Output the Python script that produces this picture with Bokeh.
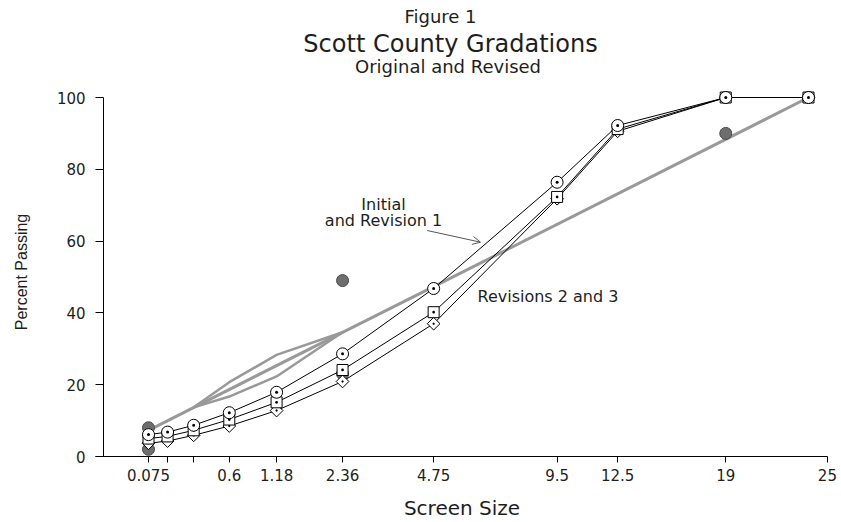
import numpy as np
from bokeh.plotting import figure
from bokeh.models import Range1d, FixedTicker, Label, Arrow, OpenHead
from bokeh.embed import file_html
from bokeh.resources import INLINE

# ---------------- data ----------------
sizes = [0.075, 0.15, 0.3, 0.6, 1.18, 2.36, 4.75, 9.5, 12.5, 19, 25]
initial_rev1 = [6.1, 6.8, 8.7, 12.2, 17.9, 28.6, 46.8, 76.4, 92.2, 100, 100]
revision2 = [5.0, 5.6, 7.3, 10.3, 15.1, 24.1, 40.2, 72.3, 91.2, 100, 100]
revision3 = [3.7, 4.3, 5.9, 8.5, 12.8, 20.9, 37.0, 71.8, 90.6, 100, 100]

# maximum density line (0.45 power)
mdl_sizes = [0.075, 2.36, 4.75, 25]
mdl_values = [7.3, 34.6, 47.3, 100]

# restricted zone boundaries
rz_sizes = [0.3, 0.6, 1.18, 2.36]
rz_upper = [13.7, 20.7, 28.3, 34.6]
rz_lower = [13.7, 16.7, 22.3, 34.6]

# control points
cp_sizes = [0.075, 0.075, 2.36, 2.36, 19]
cp_values = [8, 2, 49, 23, 90]

# axis ticks
tick_sizes = [0.075, 0.15, 0.3, 0.6, 1.18, 2.36, 4.75, 9.5, 12.5, 19, 26.5]
tick_labels = ["0.075", "", "", "0.6", "1.18", "2.36", "4.75", "9.5", "12.5", "19", "25"]
y_ticks = [0, 20, 40, 60, 80, 100]

POW = 0.45


def tx(v):
    return [float(a) for a in np.asarray(v, dtype=float) ** POW]


FONT = "DejaVu Sans"
TXT = "#1e1e1e"
W, H = 841, 522

# layout: the frame fills the whole canvas; both axes are drawn at fixed
# locations inside it, and the titles are drawn as labels.
X_START, X_END = -0.5729, 4.4540
Y_START, Y_END = -18.38, 127.02
Y_AXIS_AT = 0.0428        # transformed x where the y axis is drawn
X_AXIS_FROM = -0.0051     # x axis line starts slightly left of the y axis
X_AXIS_TO = 26.5 ** POW

p = figure(width=W, height=H, output_backend="svg", toolbar_location=None,
           x_range=Range1d(X_START, X_END), y_range=Range1d(Y_START, Y_END),
           min_border_left=0, min_border_right=0, min_border_top=0,
           min_border_bottom=0)
p.title.visible = False
p.outline_line_color = None
p.grid.visible = False
p.background_fill_color = "white"
p.border_fill_color = "white"

# x axis
xt = tx(tick_sizes)
p.xaxis.fixed_location = 0
p.xaxis.ticker = FixedTicker(ticks=xt, minor_ticks=[])
p.xaxis.major_label_overrides = {t: lab for t, lab in zip(xt, tick_labels)}
p.xaxis.bounds = (X_AXIS_FROM, X_AXIS_TO)
p.xaxis.major_tick_out = 6
p.xaxis.major_tick_in = 0
p.xaxis.minor_tick_line_color = None
p.xaxis.major_label_standoff = 6
p.xaxis.major_label_text_font = FONT
p.xaxis.major_label_text_font_size = "15px"
p.xaxis.major_label_text_color = TXT
p.xaxis.axis_line_color = "black"

# y axis
p.yaxis.fixed_location = Y_AXIS_AT
p.yaxis.ticker = FixedTicker(ticks=y_ticks, minor_ticks=[])
p.yaxis.bounds = (0, 100)
p.yaxis.major_tick_out = 8
p.yaxis.major_tick_in = 0
p.yaxis.minor_tick_line_color = None
p.yaxis.major_label_standoff = 10
p.yaxis.major_label_text_font = FONT
p.yaxis.major_label_text_font_size = "15px"
p.yaxis.major_label_text_color = TXT
p.yaxis.axis_line_color = "black"

GRAY = "#999999"
p.line(tx(mdl_sizes), mdl_values, line_color=GRAY, line_width=3)
p.line(tx(rz_sizes), rz_upper, line_color=GRAY, line_width=2.5)
p.line(tx(rz_sizes), rz_lower, line_color=GRAY, line_width=2.5)
p.scatter(tx(cp_sizes), cp_values, marker="circle", size=12,
          fill_color="#6e6e6e", line_color="#4a4a4a", line_width=1)

xs = tx(sizes)
for vals in (revision3, revision2, initial_rev1):
    p.line(xs, vals, line_color="black", line_width=1)
p.scatter(xs, revision3, marker="square_dot", size=9, angle=np.pi / 4,
          fill_color="white", line_color="black", line_width=1)
p.scatter(xs, revision2, marker="square_dot", size=11, fill_color="white",
          line_color="black", line_width=1)
p.scatter(xs, initial_rev1, marker="circle_dot", size=12, fill_color="white",
          line_color="black", line_width=1)


def lab(text, px, py, size, align="center", font=FONT, angle=0.0,
        baseline="alphabetic"):
    # px, py: page pixel position (py measured from the top)
    p.add_layout(Label(x=px, y=H - py, x_units="screen", y_units="screen",
                       text=text, text_align=align, text_baseline=baseline,
                       angle=angle, text_font=font, text_font_size=size,
                       text_color=TXT))


# titles
lab("Figure 1", 440, 15.5, "18px")
lab("Scott County Gradations", 450, 43.5, "24px")
lab("Original and Revised", 447.5, 65.5, "18px")

# axis titles
lab("Screen Size", 461.5, 507.6, "20px")
lab("Percent Passing", 21, 271.5, "16px", font="Liberation Sans",
    angle=np.pi / 2, baseline="middle")

# annotations
lab("Initial", 383, 204.3, "16px")
lab("and Revision 1", 383, 220, "16px")
lab("Revisions 2 and 3", 477, 296.3, "16px", align="left")

p.add_layout(Arrow(x_start=426.7, y_start=H - 230, x_end=480, y_end=H - 241.7,
                   start_units="screen", end_units="screen",
                   line_color="#555555", line_width=1,
                   end=OpenHead(size=8, line_color="#555555", line_width=1)))

open("out.html", "w").write(file_html(p, INLINE))
